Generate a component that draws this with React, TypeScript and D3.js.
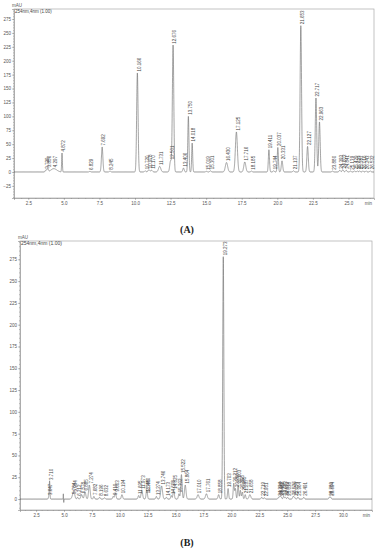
import React, { useEffect, useRef } from 'react';
import * as d3 from 'd3';

// peaks: [retention time (min), height (mAU), width sigma (min)]
const peaksA: [number, number, number][] = [
  [3.729, 3, 0.04], [3.856, 6, 0.05], [4.297, 6, 0.2], [4.872, 34, 0.025],
  [6.829, 1, 0.05], [7.692, 45, 0.05], [8.245, 1.5, 0.05], [10.166, 178, 0.05],
  [10.72, 2, 0.05], [10.978, 4, 0.06], [11.17, 3, 0.06], [11.731, 10, 0.08],
  [12.501, 20, 0.06], [12.676, 228, 0.05], [13.406, 7, 0.05], [13.75, 100, 0.04],
  [14.018, 52, 0.035], [15.019, 1, 0.05], [15.301, 2, 0.05], [16.43, 17, 0.08],
  [17.125, 72, 0.07], [17.716, 18, 0.07], [18.185, 1.5, 0.05], [19.411, 40, 0.04],
  [19.744, 2, 0.05], [20.037, 44, 0.04], [20.331, 20, 0.05], [21.137, 2, 0.05],
  [21.653, 263, 0.05], [22.127, 46, 0.05], [22.717, 133, 0.05], [22.963, 90, 0.05],
  [23.88, 1.5, 0.05], [24.393, 3, 0.05], [24.603, 4, 0.05], [24.841, 3, 0.05],
  [25.139, 1.5, 0.05], [25.429, 2, 0.04], [25.623, 2, 0.04], [25.787, 2, 0.04],
  [26.016, 2, 0.04], [26.243, 2, 0.04], [26.532, 2, 0.04],
];

const peaksB: [number, number, number][] = [
  [3.647, 3, 0.04], [3.71, 20, 0.03], [5.784, 4, 0.08], [5.904, 7, 0.07],
  [6.212, 2, 0.05], [6.578, 5, 0.07], [6.885, 8, 0.07], [7.274, 16, 0.07],
  [7.682, 3, 0.05], [8.196, 2, 0.05], [8.632, 1.5, 0.05], [9.41, 3, 0.05],
  [9.603, 7, 0.06], [10.194, 5, 0.06], [11.695, 4, 0.06], [11.973, 10, 0.07],
  [12.385, 5, 0.05], [12.44, 7, 0.05], [13.274, 3, 0.05], [13.746, 15, 0.08],
  [14.173, 2, 0.05], [14.608, 4, 0.05], [14.825, 10, 0.06], [15.302, 6, 0.05],
  [15.522, 28, 0.06], [15.864, 16, 0.07], [17.01, 5, 0.08], [17.761, 6, 0.08],
  [18.858, 5, 0.06], [19.273, 278, 0.05], [19.703, 12, 0.05], [20.212, 18, 0.05],
  [20.36, 12, 0.05], [20.603, 16, 0.05], [20.805, 10, 0.05], [20.985, 8, 0.05],
  [21.237, 5, 0.05], [21.658, 5, 0.08], [22.719, 2, 0.05], [22.951, 1.5, 0.05],
  [24.234, 2, 0.05], [24.362, 3, 0.05], [24.461, 2, 0.05], [24.683, 3, 0.05],
  [24.833, 2, 0.05], [25.038, 2, 0.05], [25.536, 3, 0.05], [25.654, 2, 0.05],
  [25.964, 2, 0.05], [26.491, 2, 0.05], [28.78, 2, 0.05], [28.894, 2, 0.05],
];

// unlabeled injection spike in B
const spikesB: [number, number, number][] = [[4.94, 6, 0.012], [4.98, -4, 0.012]];

const xTicksA = [2.5, 5.0, 7.5, 10.0, 12.5, 15.0, 17.5, 20.0, 22.5, 25.0];
const yTicksA = [-25, 0, 25, 50, 75, 100, 125, 150, 175, 200, 225, 250, 275];
const xTicksB = [2.5, 5.0, 7.5, 10.0, 12.5, 15.0, 17.5, 20.0, 22.5, 25.0, 27.5, 30.0];
const yTicksB = [0, 25, 50, 75, 100, 125, 150, 175, 200, 225, 250, 275];

const FONT = 'Arial, "Liberation Sans", sans-serif';

interface PanelOpts {
  peaks: [number, number, number][];
  extra: [number, number, number][];
  xDomain: [number, number];
  yDomain: [number, number];
  left: number;
  right: number;
  top: number;
  bottom: number;
  xTicks: number[];
  yTicks: number[];
  headSize: number;
  title: string;
  titleY: number;
}

function drawPanel(svg: any, o: PanelOpts) {
  const x = d3.scaleLinear().domain(o.xDomain).range([o.left, o.right]);
  const y = d3.scaleLinear().domain(o.yDomain).range([o.bottom, o.top]);
  const g = svg.append('g');

  // frame
  g.append('rect')
    .attr('x', o.left).attr('y', o.top)
    .attr('width', o.right - o.left).attr('height', o.bottom - o.top)
    .attr('fill', 'none').attr('stroke', '#aaa').attr('stroke-width', 0.7);

  // minor ticks
  const yMinor = d3.range(Math.ceil(o.yDomain[0] / 5) * 5, o.yDomain[1], 5);
  g.append('g')
    .attr('transform', `translate(${o.left},0)`)
    .call(d3.axisLeft(y).tickValues(yMinor).tickSize(1).tickFormat(() => ''))
    .call((a: any) => a.select('.domain').remove());
  const xMinor = d3.range(Math.ceil(o.xDomain[0] * 2) / 2, o.xDomain[1], 0.5);
  g.append('g')
    .attr('transform', `translate(0,${o.bottom})`)
    .call(d3.axisBottom(x).tickValues(xMinor).tickSize(1).tickFormat(() => ''))
    .call((a: any) => a.select('.domain').remove());

  // major axes
  const yAxis = g.append('g')
    .attr('transform', `translate(${o.left},0)`)
    .call(d3.axisLeft(y).tickValues(o.yTicks).tickSize(2).tickPadding(1).tickFormat(d3.format('d')));
  const xAxis = g.append('g')
    .attr('transform', `translate(0,${o.bottom})`)
    .call(d3.axisBottom(x).tickValues(o.xTicks).tickSize(2).tickPadding(1.5).tickFormat(d3.format('.1f')));
  [yAxis, xAxis].forEach((a: any) => {
    a.attr('font-family', null);
    a.selectAll('path,line').attr('stroke', '#888').attr('stroke-width', 0.6);
    a.selectAll('text').attr('font-size', 4.5).style('font-family', FONT).attr('fill', '#555');
  });
  g.selectAll('.tick line').attr('stroke', '#888').attr('stroke-width', 0.5);

  g.append('text')
    .attr('x', o.right - 2).attr('y', o.bottom + 7)
    .attr('text-anchor', 'end')
    .attr('font-size', 4.5).style('font-family', FONT).attr('fill', '#555')
    .text('min');
  g.append('text')
    .attr('x', o.left - 2).attr('y', o.top - 2.5)
    .attr('font-size', 4.5).style('font-family', FONT).attr('fill', '#555')
    .text('mAU');
  g.append('text')
    .attr('x', o.left + 1).attr('y', o.top + 3.8)
    .attr('font-size', o.headSize).style('font-family', FONT).attr('fill', '#444')
    .text('254nm,4nm (1.00)');

  // trace
  const all = o.peaks.concat(o.extra);
  const ts = d3.range(o.xDomain[0], o.xDomain[1], 0.004);
  const signal = (t: number) =>
    d3.sum(all, ([rt, h, s]) => h * Math.exp(-((t - rt) ** 2) / (2 * s * s)));
  const line = d3.line<number>().x(t => x(t)).y(t => y(signal(t)));
  g.append('path')
    .attr('d', line(ts))
    .attr('fill', 'none')
    .attr('stroke', '#666')
    .attr('stroke-width', 0.6);

  // peak labels
  g.selectAll('text.pk')
    .data(o.peaks)
    .enter()
    .append('text')
    .attr('class', 'pk')
    .attr('transform', (d: any) => `translate(${x(d[0]) + 3.3},${y(d[1]) - 1.5}) rotate(-90)`)
    .attr('font-size', 4.5)
    .style('font-family', FONT)
    .attr('fill', '#444')
    .text((d: any) => d[0].toFixed(3));

  svg.append('text')
    .attr('x', 187).attr('y', o.titleY)
    .attr('text-anchor', 'middle')
    .attr('font-size', 10).attr('font-weight', 'bold')
    .style('font-family', '"Liberation Serif", "Times New Roman", serif')
    .attr('fill', '#222')
    .text(o.title);
}

export default function App() {
  const ref = useRef<SVGSVGElement>(null);

  useEffect(() => {
    document.body.style.margin = '0';
    const svg = d3.select(ref.current);
    svg.selectAll('*').remove();

    drawPanel(svg, {
      peaks: peaksA, extra: [],
      xDomain: [1.497, 26.795], yDomain: [-46.8, 293],
      left: 14, right: 374, top: 9, bottom: 198,
      xTicks: xTicksA, yTicks: yTicksA, headSize: 4.5,
      title: '(A)', titleY: 233,
    });
    drawPanel(svg, {
      peaks: peaksB, extra: spikesB,
      xDomain: [1.057, 32.6], yDomain: [-12.6, 296],
      left: 20, right: 372, top: 241, bottom: 510,
      xTicks: xTicksB, yTicks: yTicksB, headSize: 5,
      title: '(B)', titleY: 546,
    });
  }, []);

  return <svg ref={ref} width={384} height={550} style={{ display: 'block', background: '#fff' }} />;
}
